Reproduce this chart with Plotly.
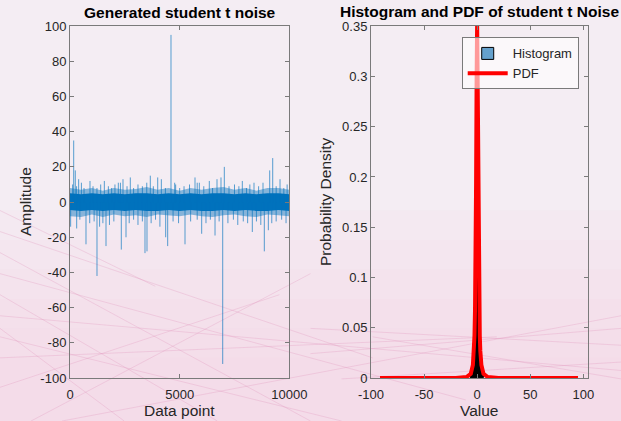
import plotly.graph_objects as go

# ---------------- data ----------------
# left panel: noise envelope (dense core) sampled along data index
env_x = [0, 500, 1000, 1500, 2000, 2500, 3000, 3500, 4000, 4500, 5000,
         5500, 6000, 6500, 7000, 7500, 8000, 8500, 9000, 9500, 10000]
core_hi = [5, 4.5, 5, 4.5, 5, 4.5, 5, 5, 4.5, 5, 4.5, 5, 4.5, 5, 5, 4.5, 5, 4.5, 5, 5, 4.5]
core_lo = [-4.5, -5, -4.5, -5, -4.5, -5, -4.5, -5, -5, -4.5, -5, -4.5, -5, -5, -4.5, -5, -4.5, -5, -5, -4.5, -5]
fringe_hi = [8, 7, 8, 6.5, 8, 7, 7.5, 8.5, 7, 8, 6.5, 8, 7, 8, 8.5, 7, 8, 6.5, 8, 8, 7]
fringe_lo = [-8, -8.5, -7, -8.5, -7, -8, -7.5, -8.5, -7, -7.5, -8, -7, -8, -8.5, -7.5, -7, -8, -8.5, -7, -7.5, -8]

spike_pos = [169, 242, 395, 120, 300, 520, 640, 912, 1050, 1230, 1400, 1566, 1750, 1900,
             2050, 2204, 2300, 2417, 2600, 2750, 2900, 3100, 3300, 3500, 3662, 3800, 4000,
             4165, 4350, 4605, 4773, 4818, 5000, 5200, 5450, 5700, 5800, 5897, 6100, 6352,
             6500, 6703, 6885, 7036, 7250, 7500, 7700, 7857, 8050, 8200, 8390, 8600, 8800,
             9106, 9243, 9400, 9576, 9750, 9900,
             30, 305, 450, 730, 900, 1100, 1231, 1350, 1500, 1642, 1800, 2000, 2340, 2554,
             2700, 2900, 3100, 3300, 3420, 3511, 3700, 3900, 4100, 4363, 4454, 4700, 4950,
             5244, 5500, 5800, 6004, 6200, 6400, 6612, 6800, 6963, 7200, 7450, 7650, 7900,
             8100, 8313, 8500, 8700, 8860, 9043, 9200, 9400, 9650, 9850]
spike_val = [35, 18, 13, 10, 9, 11, 8, 12, 9, 8, 10, 12, 9, 8,
             10, 11, 11, 13, 9, 14, 8, 10, 9, 11, 15, 9, 14,
             13, 8, 95, 11, 10, 8, 9, 10, 14, 11, 11, 9, 12,
             8, 13, 14, 20, 9, 10, 9, 12, 8, 10, 11, 9, 11,
             18, 25, 9, 13, 8, 10,
             -14, -15, -10, -24, -12, -11, -42, -14, -12, -25, -13, -11, -27, -20,
             -12, -10, -13, -11, -29, -28, -12, -10, -14, -20, -25, -11, -12,
             -24, -11, -10, -18, -12, -10, -19, -11, -92, -12, -10, -13, -11,
             -12, -17, -11, -13, -28, -16, -12, -11, -10, -12]

# right panel: histogram (bin centres, density) and fitted PDF
hist_x = [-6, -5.5, -5, -4.5, -4, -3.5, -3, -2.5, -2, -1.5, -1, -0.5, 0,
          0.5, 1, 1.5, 2, 2.5, 3, 3.5, 4, 4.5, 5, 5.5, 6]
hist_y = [0.004, 0.006, 0.007, 0.010, 0.013, 0.019, 0.027, 0.042, 0.068, 0.114, 0.19, 0.29, 0.34,
          0.30, 0.19, 0.115, 0.067, 0.041, 0.028, 0.018, 0.013, 0.009, 0.007, 0.005, 0.004]
pdf_x = [-91.5, -60, -40, -20, -10, -6, -4, -3, -2.5, -2, -1.5, -1, -0.5, 0,
         0.5, 1, 1.5, 2, 2.5, 3, 4, 6, 10, 20, 40, 60, 95]
pdf_y = [0.0, 0.0, 0.0, 0.0001, 0.001, 0.0043, 0.013, 0.027, 0.042, 0.068, 0.114, 0.192, 0.296, 0.354,
         0.296, 0.192, 0.114, 0.068, 0.042, 0.027, 0.013, 0.0043, 0.001, 0.0001, 0.0, 0.0, 0.0]

left_ticks_y = [-100, -80, -60, -40, -20, 0, 20, 40, 60, 80, 100]
left_ticks_x = [0, 5000, 10000]
right_ticks_y = [0, 0.05, 0.1, 0.15, 0.2, 0.25, 0.3, 0.35]
right_ticks_x = [-100, -50, 0, 50, 100]

# ---------------- figure ----------------
BLUE = "#0072BD"
fig = go.Figure()

# fringe band
fig.add_trace(go.Scatter(x=env_x, y=fringe_lo, mode="lines", line=dict(width=0),
                         showlegend=False, hoverinfo="skip", xaxis="x", yaxis="y"))
fig.add_trace(go.Scatter(x=env_x, y=fringe_hi, mode="lines", line=dict(width=0),
                         fill="tonexty", fillcolor="rgba(0,114,189,0.45)",
                         showlegend=False, hoverinfo="skip", xaxis="x", yaxis="y"))
# core band
fig.add_trace(go.Scatter(x=env_x, y=core_lo, mode="lines", line=dict(width=0),
                         showlegend=False, hoverinfo="skip", xaxis="x", yaxis="y"))
fig.add_trace(go.Scatter(x=env_x, y=core_hi, mode="lines", line=dict(width=0),
                         fill="tonexty", fillcolor=BLUE,
                         showlegend=False, hoverinfo="skip", xaxis="x", yaxis="y"))
# spikes
sx, sy = [], []
for p, v in zip(spike_pos, spike_val):
    sx += [p, p, None]
    sy += [0, v, None]
fig.add_trace(go.Scatter(x=sx, y=sy, mode="lines",
                         line=dict(color="rgba(0,114,189,0.65)", width=1),
                         showlegend=False, hoverinfo="skip", xaxis="x", yaxis="y"))

# histogram
fig.add_trace(go.Bar(x=hist_x, y=hist_y, width=0.5, name="Histogram",
                     marker=dict(color="#65a1cc", line=dict(color="black", width=1)),
                     xaxis="x2", yaxis="y2"))
# pdf
fig.add_trace(go.Scatter(x=pdf_x, y=pdf_y, mode="lines", name="PDF",
                         line=dict(color="#ff0000", width=4),
                         xaxis="x2", yaxis="y2"))

axis_common = dict(showgrid=False, zeroline=False, showline=True, linecolor="#7a7a7a",
                   linewidth=1, mirror="allticks", ticks="inside", ticklen=4,
                   tickcolor="#7a7a7a", tickfont=dict(size=13, color="#262626"),
                   automargin=False)

YD = [0.102, 0.938]
fig.update_layout(
    width=621, height=421,
    margin=dict(l=0, r=0, t=0, b=0, pad=0, autoexpand=False),
    paper_bgcolor="#f4edf3",
    plot_bgcolor="rgba(0,0,0,0)",
    font=dict(family="Liberation Sans, Arial, sans-serif", color="#262626"),
    bargap=0,
    xaxis=dict(domain=[0.1127, 0.4659], range=[0, 10000], tickvals=left_ticks_x,
               ticktext=[str(v) for v in left_ticks_x], anchor="y",
               ticklabelstandoff=4, **axis_common),
    yaxis=dict(domain=YD, range=[-100, 100], tickvals=left_ticks_y,
               ticktext=[str(v) for v in left_ticks_y], anchor="x", **axis_common),
    xaxis2=dict(domain=[0.5974, 0.9473], range=[-100, 104.7], tickvals=right_ticks_x,
                ticktext=[str(v) for v in right_ticks_x], anchor="y2",
                ticklabelstandoff=4, **axis_common),
    yaxis2=dict(domain=YD, range=[0, 0.35], tickvals=right_ticks_y,
                ticktext=["0", "0.05", "0.1", "0.15", "0.2", "0.25", "0.3", "0.35"],
                anchor="x2", **axis_common),
    legend=dict(x=0.7435, y=0.911, xanchor="left", yanchor="top", traceorder="normal",
                bgcolor="rgba(255,255,255,0.6)", bordercolor="#7a7a7a", borderwidth=1,
                font=dict(size=13, color="#262626"), tracegroupgap=0,
                itemwidth=40),
    showlegend=True,
)

# titles and axis labels as annotations
ann = [
    dict(text="<b>Generated student t noise</b>", x=0.2893, y=1 - 13 / 421, font=dict(size=15.5, color="#000")),
    dict(text="<b>Histogram and PDF of student t Noise</b>", x=0.7724, y=1 - 12 / 421, font=dict(size=15.5, color="#000")),
    dict(text="Data point", x=0.2893, y=1 - 410 / 421, font=dict(size=15.5)),
    dict(text="Value", x=0.7724, y=1 - 410 / 421, font=dict(size=15.5)),
    dict(text="Amplitude", x=25 / 621, y=0.52, textangle=-90, font=dict(size=15.5)),
    dict(text="Probability Density", x=325 / 621, y=0.52, textangle=-90, font=dict(size=15.5)),
]
for a in ann:
    fig.add_annotation(xref="paper", yref="paper", showarrow=False,
                       xanchor="center", yanchor="middle", **a)

# subtle background decoration (gradient + faint pink lines)
shapes = []
for i in range(6):
    shapes.append(dict(type="rect", xref="paper", yref="paper", x0=0, x1=1,
                       y0=0, y1=0.5 - i * 0.07, line=dict(width=0),
                       fillcolor="rgba(245,205,225,0.10)", layer="below"))
lines = [(0, 0.45, 0.6, 0.15), (0, 0.40, 0.5, 0.0), (0, 0.35, 0.75, 0.05), (0, 0.30, 0.35, 0.0),
         (0, 0.25, 1.0, 0.12), (0, 0.20, 0.55, 0.0), (0, 0.15, 0.8, 0.2), (0.05, 0.0, 0.5, 0.35),
         (0, 0.08, 0.45, 0.3), (0.1, 0.0, 1.0, 0.25), (0, 0.50, 0.25, 0.32), (0.2, 0.0, 0.0, 0.22),
         (0.5, 0.22, 1.0, 0.18), (0.5, 0.16, 1.0, 0.22), (0.55, 0.10, 1.0, 0.14), (0.6, 0.2, 1.0, 0.1)]
for x0, y0, x1, y1 in lines:
    shapes.append(dict(type="line", xref="paper", yref="paper", x0=x0, y0=y0, x1=x1, y1=y1,
                       line=dict(color="rgba(225,150,190,0.30)", width=1), layer="below"))
fig.update_layout(shapes=shapes)

fig.write_html("out.html")
